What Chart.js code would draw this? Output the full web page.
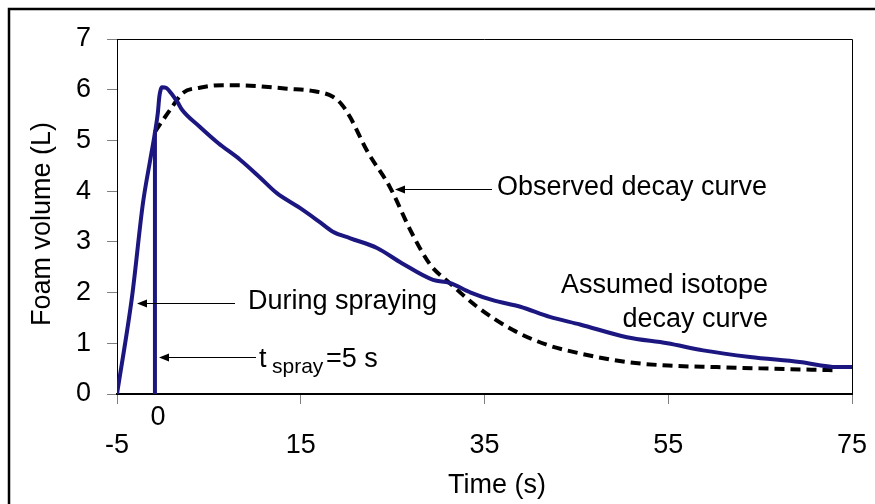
<!DOCTYPE html>
<html>
<head>
<meta charset="utf-8">
<script src="https://cdn.jsdelivr.net/npm/chart.js@4/dist/chart.umd.min.js"></script>
<style>
  html, body { margin: 0; padding: 0; background: #fff; }
  #wrap { width: 875px; height: 504px; }
</style>
</head>
<body>
<div id="wrap"><canvas id="foamChart" width="875" height="504"></canvas></div>
<script>
// tick labels
const xTicks = [-5, 15, 35, 55, 75];
const yTicks = [0, 1, 2, 3, 4, 5, 6, 7];

// assumed isotope decay curve (incl. rise during spraying)
const tAssumed = [-5, -3.37, -2.17, -1.4, -0.87, -0.55, -0.4, -0.25, -0.1, 0.4, 0.9, 1.6, 2.1, 4.0, 6.0, 8.4, 10.5, 12.4, 14.9, 17, 18.5, 20.4, 23.3, 26, 29.4, 31.2, 33.5, 35.9, 38.9, 42.1, 45.4, 50.5, 54.9, 58.8, 63.9, 69.3, 73.4, 75];
const vAssumed = [0, 1.91, 3.77, 4.6, 5.15, 5.55, 5.85, 6.0, 6.05, 6.03, 5.93, 5.75, 5.6, 5.27, 4.95, 4.62, 4.28, 3.96, 3.67, 3.4, 3.2, 3.07, 2.88, 2.58, 2.25, 2.19, 2.0, 1.85, 1.72, 1.52, 1.37, 1.12, 1.0, 0.86, 0.73, 0.63, 0.53, 0.53];

// observed decay curve
const tObserved = [-0.87, 0.77, 2.2, 4.0, 6.5, 9.5, 13.5, 16.5, 18.5, 19.5, 20.4, 22.2, 24.7, 27.1, 29.1, 31.2, 34.2, 38.1, 41.8, 45.4, 50.5, 55, 60.3, 66, 72.9];
const vObserved = [5.17, 5.6, 5.94, 6.04, 6.09, 6.08, 6.02, 5.97, 5.86, 5.7, 5.45, 4.8, 4.08, 3.17, 2.55, 2.19, 1.72, 1.26, 0.97, 0.8, 0.63, 0.56, 0.53, 0.5, 0.47];

// end of spraying marker
const tSpray = [-0.87, -0.87];
const vSpray = [0, 5.17];

const navy = '#1c1780';
const fontFam = "'Liberation Sans', Arial, sans-serif";

function pts(ts, vs) {
    return ts.map((t, i) => ({ x: t, y: vs[i] }));
}

function arrow(ctx, x1, y, x2) {
    ctx.save();
    ctx.strokeStyle = '#000';
    ctx.fillStyle = '#000';
    ctx.lineWidth = 1;
    ctx.beginPath();
    ctx.moveTo(x1, y + 0.5);
    ctx.lineTo(x2 + 6, y + 0.5);
    ctx.stroke();
    ctx.beginPath();
    ctx.moveTo(x2, y + 0.5);
    ctx.lineTo(x2 + 10, y - 3.5);
    ctx.lineTo(x2 + 10, y + 4.5);
    ctx.closePath();
    ctx.fill();
    ctx.restore();
}

const decor = {
    id: 'decor',
    afterDraw(chart) {
        const ctx = chart.ctx;
        const a = chart.chartArea;
        const xs = chart.scales.x;
        ctx.save();
        // outer frame
        ctx.strokeStyle = '#000';
        ctx.lineWidth = 2.5;
        ctx.strokeRect(9, 9, 900, 520);
        // plot area top and right edges
        ctx.lineWidth = 1;
        ctx.beginPath();
        ctx.moveTo(a.left, a.top + 0.5);
        ctx.lineTo(a.right + 0.5, a.top + 0.5);
        ctx.lineTo(a.right + 0.5, a.bottom);
        ctx.stroke();

        ctx.fillStyle = '#000';
        ctx.font = '27px ' + fontFam;
        ctx.textBaseline = 'middle';
        ctx.textAlign = 'center';
        // axis titles
        ctx.fillText('Time (s)', 497, 486);
        ctx.save();
        ctx.translate(43, 224);
        ctx.rotate(-Math.PI / 2);
        ctx.fillText('Foam volume (L)', 0, 0);
        ctx.restore();

        ctx.fillText('0', xs.getPixelForValue(tSpray[0]) + 3, 418);

        ctx.textAlign = 'left';
        ctx.fillText('Observed decay curve', 497, 188);
        ctx.fillText('During spraying', 248, 302);

        ctx.textAlign = 'right';
        ctx.fillText('Assumed isotope', 768, 286);
        ctx.fillText('decay curve', 768, 320);

        ctx.textAlign = 'left';
        ctx.textBaseline = 'alphabetic';
        ctx.fillText('t', 259, 367);
        ctx.font = '21px ' + fontFam;
        ctx.fillText('spray', 272, 373);
        ctx.font = '27px ' + fontFam;
        ctx.fillText('=5 s', 326, 367);

        arrow(ctx, 492, 189, 395);
        arrow(ctx, 235, 303, 137);
        arrow(ctx, 256, 357, 159);
        ctx.restore();
    }
};

const ctx = document.getElementById('foamChart').getContext('2d');
const chart = new Chart(ctx, {
    type: 'line',
    data: {
        datasets: [{
            label: 'Assumed isotope decay curve',
            data: pts(tAssumed, vAssumed),
            borderColor: navy,
            borderWidth: 4,
            pointRadius: 0,
            tension: 0.3,
            cubicInterpolationMode: 'monotone'
        }, {
            label: 't spray',
            data: pts(tSpray, vSpray),
            borderColor: navy,
            borderWidth: 4,
            pointRadius: 0
        }, {
            label: 'Observed decay curve',
            data: pts(tObserved, vObserved),
            borderColor: '#000',
            borderWidth: 4,
            borderDash: [10, 6],
            pointRadius: 0,
            cubicInterpolationMode: 'monotone'
        }]
    },
    options: {
        responsive: false,
        animation: false,
        events: [],
        layout: { padding: { top: 39, right: 23, left: 0, bottom: 0 } },
        plugins: {
            legend: { display: false },
            tooltip: { enabled: false }
        },
        scales: {
            x: {
                type: 'linear',
                min: -5,
                max: 75,
                afterBuildTicks: s => { s.ticks = xTicks.map(v => ({ value: v })); },
                afterFit: s => { s.height = 110; s.paddingLeft = 0; s.paddingRight = 0; },
                grid: { drawOnChartArea: false, tickLength: 10, color: '#808080' },
                border: { color: '#000', width: 2 },
                ticks: { padding: 25, color: '#000', font: { family: fontFam, size: 27 } }
            },
            y: {
                min: 0,
                max: 7,
                afterBuildTicks: s => { s.ticks = yTicks.map(v => ({ value: v })); },
                afterFit: s => { s.width = 117; s.paddingTop = 0; s.paddingBottom = 0; },
                grid: { drawOnChartArea: false, tickLength: 10, color: '#808080' },
                border: { color: '#000', width: 1 },
                ticks: { padding: 16, color: '#000', font: { family: fontFam, size: 27 } }
            }
        }
    },
    plugins: [decor]
});
</script>
</body>
</html>
